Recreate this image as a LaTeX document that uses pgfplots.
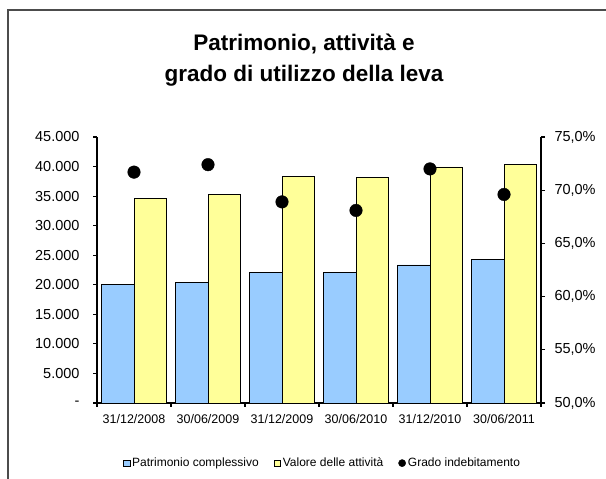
\documentclass[border=0pt]{standalone}
\usepackage{fontspec}
\setmainfont{Liberation Sans}
\usepackage{pgfplots}
\pgfplotsset{compat=1.18}
\definecolor{barblue}{HTML}{99CCFF}
\definecolor{baryellow}{HTML}{FFFF99}
\begin{document}
\begin{tikzpicture}[x=1bp,y=1bp]
\useasboundingbox (0,0) rectangle (606,479);
\draw[line width=1.3bp, black!70] (8,0) -- (8,469) -- (606,469);
\node[font=\fontsize{22.5bp}{26bp}\selectfont\bfseries, anchor=base, inner sep=0pt] at (304,428.3) {Patrimonio, attività e};
\node[font=\fontsize{22.5bp}{26bp}\selectfont\bfseries, anchor=base, inner sep=0pt] at (304,397.3) {grado di utilizzo della leva};
\begin{axis}[
  at={(97bp,76bp)}, anchor=south west, scale only axis,
  width=444bp, height=266bp,
  xmin=-0.5, xmax=5.5, ymin=0, ymax=45000,
  scaled y ticks=false,
  axis x line*=bottom, axis y line*=left,
  axis line style={line width=1.5bp, -},
  tick align=outside, major tick length=4bp,
  tick style={black, line width=1.2bp},
  xtick={-0.5,0.5,...,5.5},
  xticklabels={31/12/2008,30/06/2009,31/12/2009,30/06/2010,31/12/2010,30/06/2011,{}},
  xticklabel style={xshift=37bp, font=\fontsize{12.5bp}{14bp}\selectfont, yshift=-4bp},
  ytick={0,5000,...,45000},
  yticklabels={{-\hspace{8bp}},5.000,10.000,15.000,20.000,25.000,30.000,35.000,40.000,45.000},
  yticklabel style={font=\fontsize{14.5bp}{16bp}\selectfont, xshift=-10bp},
]
\addplot[ybar, bar width=0.44, bar shift=-0.22, fill=barblue, draw=black, line width=0.6bp]
  coordinates {(0,20050) (1,20420) (2,22040) (3,22040) (4,23350) (5,24310)};
\addplot[ybar, bar width=0.44, bar shift=0.22, fill=baryellow, draw=black, line width=0.6bp]
  coordinates {(0,34650) (1,35300) (2,38280) (3,38110) (4,39930) (5,40380)};
\end{axis}
\begin{axis}[
  at={(97bp,76bp)}, anchor=south west, scale only axis,
  width=444bp, height=266bp,
  xmin=-0.5, xmax=5.5, ymin=50, ymax=75,
  axis x line=none, axis y line*=right,
  axis line style={line width=1.5bp, -},
  tick align=outside, major tick length=4bp,
  tick style={black, line width=1.2bp},
  ytick={50,55,...,75},
  yticklabels={{50,0\%},{55,0\%},{60,0\%},{65,0\%},{70,0\%},{75,0\%}},
  yticklabel style={font=\fontsize{14.5bp}{16bp}\selectfont, xshift=6bp},
  legend columns=3,
  legend style={at={(0.508,-0.226)}, anchor=center, draw=none, fill=none,
    font=\fontsize{12bp}{13bp}\selectfont,
    nodes={inner xsep=2bp},
    /tikz/every even column/.append style={column sep=13bp}},
]
\addlegendimage{legend image code/.code={\draw[fill=barblue,draw=black,line width=0.5bp] (0bp,-3.2bp) rectangle (6.5bp,3.3bp);}}
\addlegendentry{Patrimonio complessivo}
\addlegendimage{legend image code/.code={\draw[fill=baryellow,draw=black,line width=0.5bp] (0bp,-3.2bp) rectangle (6.5bp,3.3bp);}}
\addlegendentry{Valore delle attività}
\addplot[only marks, mark=*, mark size=6.3bp, black, legend image code/.code={\fill[black] (3.5bp,0bp) circle (3.6bp);}]
  coordinates {(0,71.7) (1,72.4) (2,68.9) (3,68.1) (4,72.0) (5,69.6)};
\addlegendentry{Grado indebitamento}
\end{axis}
\end{tikzpicture}
\end{document}
